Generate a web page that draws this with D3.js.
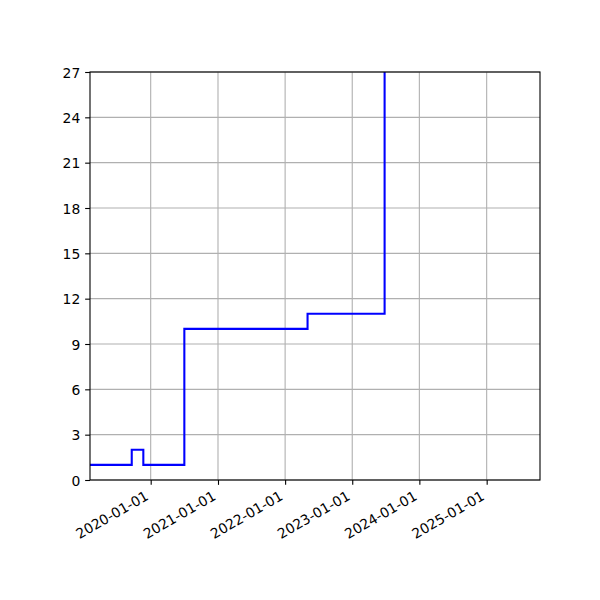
<!DOCTYPE html>
<html>
<head>
<meta charset="utf-8">
<script src="https://cdn.jsdelivr.net/npm/d3@7"></script>
<style>
  body { margin: 0; background: #fff; }
  text { font-family: "DejaVu Sans", sans-serif; font-size: 13.9px; fill: #000; }
</style>
</head>
<body>
<div id="chart"></div>
<script>
// step change dates and the count held from each one
const stepDates = ["2019-02-05", "2019-09-20", "2019-11-22", "2020-07-02", "2022-05-03", "2023-06-26"];
const stepValues = [1, 2, 1, 10, 11, 40];
const xTickDates = ["2020-01-01", "2021-01-01", "2022-01-01", "2023-01-01", "2024-01-01", "2025-01-01"];
const yTicks = [0, 3, 6, 9, 12, 15, 18, 21, 24, 27];
const xDomain = ["2019-02-05", "2025-10-18"];
const yDomain = [0, 27];

const width = 600, height = 600;
const margin = {left: 90, right: 60, top: 72, bottom: 120};
const parse = d3.utcParse("%Y-%m-%d");

const svg = d3.select("#chart").append("svg")
    .attr("width", width)
    .attr("height", height);

const x = d3.scaleUtc()
    .domain(xDomain.map(parse))
    .range([margin.left, width - margin.right]);

const y = d3.scaleLinear()
    .domain(yDomain)
    .range([height - margin.bottom, margin.top]);

const data = stepDates.map((d, i) => ({date: parse(d), value: stepValues[i]}));

svg.append("defs").append("clipPath")
    .attr("id", "plot-clip")
    .append("rect")
    .attr("x", margin.left)
    .attr("y", margin.top)
    .attr("width", width - margin.left - margin.right)
    .attr("height", height - margin.top - margin.bottom);

// grid lines
const grid = svg.append("g").attr("stroke", "#b0b0b0").attr("stroke-width", 1.1);
grid.selectAll("line.vx")
    .data(xTickDates.map(parse))
    .enter().append("line")
    .attr("x1", d => x(d)).attr("x2", d => x(d))
    .attr("y1", margin.top).attr("y2", height - margin.bottom);
grid.selectAll("line.hy")
    .data(yTicks)
    .enter().append("line")
    .attr("x1", margin.left).attr("x2", width - margin.right)
    .attr("y1", d => y(d)).attr("y2", d => y(d));

// the step line
const line = d3.line()
    .x(d => x(d.date))
    .y(d => y(d.value))
    .curve(d3.curveStepAfter);

svg.append("path")
    .datum(data)
    .attr("clip-path", "url(#plot-clip)")
    .attr("fill", "none")
    .attr("stroke", "#0000ff")
    .attr("stroke-width", 2.08)
    .attr("d", line);

// axes
const xAxis = svg.append("g")
    .attr("transform", `translate(0,${height - margin.bottom})`)
    .call(d3.axisBottom(x)
        .tickValues(xTickDates.map(parse))
        .tickSize(4.86)
        .tickPadding(4.86)
        .tickFormat(d3.utcFormat("%Y-%m-%d")));
xAxis.select(".domain").remove();
xAxis.selectAll(".tick line").attr("stroke", "#000").attr("stroke-width", 1.1);
xAxis.selectAll(".tick text")
    .attr("font-family", null).attr("font-size", null)
    .attr("text-anchor", "end")
    .attr("dy", null)
    .attr("y", 0)
    .attr("transform", "translate(-1.7,18.8) rotate(-30)");

const yAxis = svg.append("g")
    .attr("transform", `translate(${margin.left},0)`)
    .call(d3.axisLeft(y)
        .tickValues(yTicks)
        .tickSize(4.86)
        .tickPadding(4.86));
yAxis.select(".domain").remove();
yAxis.selectAll(".tick line").attr("stroke", "#000").attr("stroke-width", 1.1);
yAxis.selectAll(".tick text")
    .attr("font-family", null).attr("font-size", null)
    .attr("dy", "0.36em");

// frame
svg.append("rect")
    .attr("x", margin.left)
    .attr("y", margin.top)
    .attr("width", width - margin.left - margin.right)
    .attr("height", height - margin.top - margin.bottom)
    .attr("fill", "none")
    .attr("stroke", "#000")
    .attr("stroke-width", 1.1);
</script>
</body>
</html>
